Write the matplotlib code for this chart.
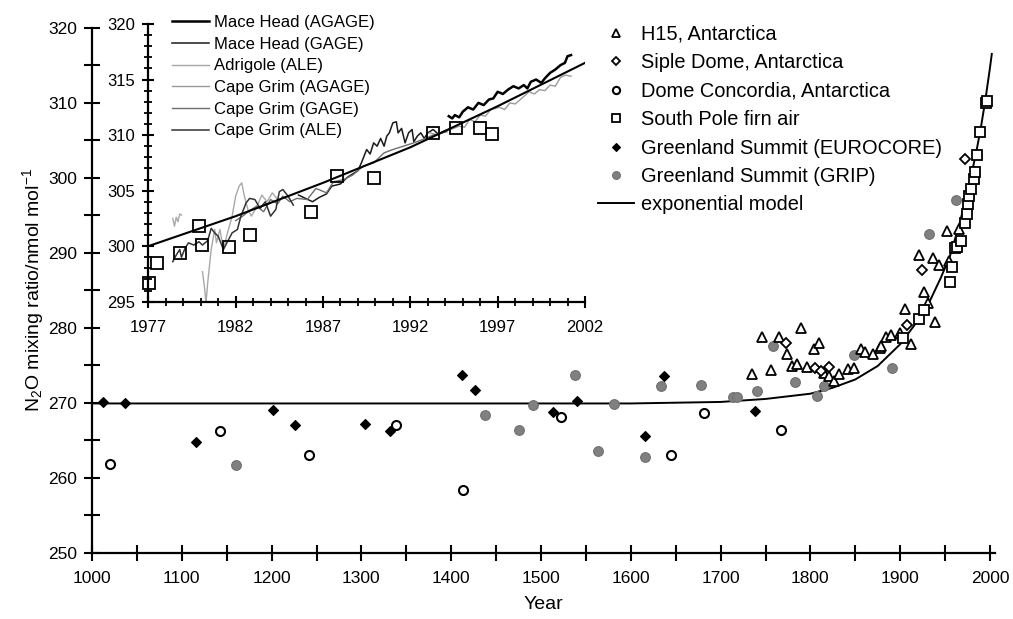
import numpy as np
import matplotlib
matplotlib.use("Agg")
import matplotlib.pyplot as plt
from matplotlib.ticker import MultipleLocator

plt.rcParams['font.family'] = ['Liberation Sans', 'DejaVu Sans']
plt.rcParams['mathtext.default'] = 'regular'

# ---- main plot data (year, N2O nmol/mol) ----
h15_year = [1735, 1746, 1756, 1765, 1774, 1780, 1785, 1790, 1796, 1804, 1810, 1815,
            1821, 1826, 1832, 1842, 1848, 1856, 1861, 1870, 1877, 1879, 1884, 1890,
            1900, 1905, 1912, 1921, 1926, 1931, 1936, 1939, 1943, 1952, 1954, 1965]
h15_val = [273.8, 278.7, 274.4, 278.7, 276.5, 274.9, 275.2, 280.0, 274.8, 277.2, 277.9, 274.0,
           273.5, 272.9, 273.8, 274.5, 274.6, 277.2, 276.8, 276.5, 277.3, 277.5, 278.8, 279.0,
           279.3, 282.5, 277.8, 289.7, 284.7, 283.3, 289.3, 280.7, 288.3, 292.9, 288.9, 293.2]

siple_year = [1773, 1805, 1812, 1821, 1908, 1924, 1972]
siple_val = [277.9, 274.6, 274.2, 274.8, 280.3, 287.7, 302.5]

domec_year = [1020, 1143, 1242, 1339, 1413, 1522, 1645, 1682, 1767]
domec_val = [261.8, 266.2, 263.0, 267.0, 258.3, 268.1, 263.0, 268.6, 266.4]

spole_year = [1903, 1921, 1926, 1955, 1958, 1961, 1963, 1968, 1972, 1974, 1976, 1977,
              1979, 1982, 1983, 1986, 1989, 1996, 1997]
spole_val = [278.6, 281.1, 282.4, 286.1, 288.1, 290.6, 290.8, 291.5, 293.9, 295.2, 296.5, 297.5,
             298.5, 299.8, 300.8, 303.0, 306.1, 309.9, 310.2]

euro_year = [1012, 1037, 1116, 1201, 1226, 1304, 1332, 1412, 1426, 1513, 1540, 1616, 1637, 1738]
euro_val = [270.1, 270.0, 264.8, 269.0, 267.0, 267.2, 266.2, 273.7, 271.7, 268.7, 270.2, 265.6, 273.6, 268.9]

grip_year = [1160, 1438, 1475, 1491, 1538, 1563, 1581, 1616, 1634, 1678, 1714, 1718, 1740,
             1758, 1783, 1807, 1815, 1848, 1891, 1932, 1962]
grip_val = [261.7, 268.4, 266.3, 269.7, 273.7, 263.6, 269.8, 262.8, 272.2, 272.4, 270.7, 270.7, 271.5,
            277.6, 272.7, 270.9, 272.2, 276.3, 274.6, 292.5, 297.0]

model_year = [1000, 1600, 1700, 1750, 1800, 1825, 1850, 1875, 1900, 1915, 1930, 1945,
              1955, 1965, 1975, 1985, 1990, 1995, 2000, 2002]
model_val = [269.9, 269.9, 270.1, 270.5, 271.2, 272.0, 273.1, 274.9, 277.8, 280.2, 282.8, 286.6,
             289.4, 293.4, 298.0, 303.6, 306.8, 310.5, 314.7, 316.5]

# ---- inset data ----
in_sq_year = [1977.06, 1977.5, 1978.8, 1979.9, 1980.1, 1981.6, 1982.8, 1986.3, 1987.8,
              1989.9, 1993.3, 1994.6, 1996.0, 1996.7]
in_sq_val = [296.7, 298.5, 299.4, 301.8, 300.1, 299.9, 301.0, 303.1, 306.3,
             306.1, 310.2, 310.6, 310.6, 310.1]

in_model_year = [1977, 1982, 1987, 1992, 1997, 2002]
in_model_val = [300.0, 302.7, 305.7, 308.9, 312.6, 316.5]

mh_agage_t = [1994.2, 1994.4, 1994.55, 1994.8, 1995.0, 1995.3, 1995.6, 1995.9, 1996.2, 1996.5,
              1996.75, 1997.0, 1997.3, 1997.6, 1997.9, 1998.2, 1998.5, 1998.7, 1998.9, 1999.2,
              1999.5, 1999.7, 2000.0, 2000.3, 2000.6, 2000.85, 2001.0, 2001.2]
mh_agage_v = [311.7, 311.5, 311.8, 311.6, 312.1, 312.5, 312.3, 312.9, 312.7, 313.2,
              313.3, 313.9, 313.7, 314.1, 314.4, 314.2, 314.5, 314.2, 314.8, 315.0,
              314.7, 315.1, 315.6, 315.9, 316.3, 316.5, 317.1, 317.2]

mh_gage_t = [1985.6, 1986.0, 1986.4, 1986.8, 1987.2, 1987.5, 1988.0, 1988.4, 1988.7, 1989.0,
             1989.2, 1989.5, 1989.7, 1989.9, 1990.1, 1990.3, 1990.5, 1990.65, 1990.8, 1991.0,
             1991.2, 1991.3, 1991.5, 1991.7, 1991.9, 1992.1, 1992.2, 1992.4, 1992.6, 1992.8,
             1993.0, 1993.3, 1993.6, 1994.0]
mh_gage_v = [304.6, 304.3, 304.0, 304.4, 304.7, 305.4, 305.6, 306.2, 306.5, 306.8,
             307.5, 308.7, 308.3, 309.3, 309.0, 309.7, 309.0, 309.9, 310.2, 311.1,
             311.2, 310.2, 310.6, 309.3, 310.2, 310.5, 309.4, 309.9, 310.2, 309.7,
             310.2, 310.5, 310.1, 310.4]

adr_t = [1978.4, 1978.5, 1978.6, 1978.7, 1978.8, 1978.9, np.nan, 1980.1, 1980.2, 1980.25,
         1980.3, 1980.4, 1980.6, 1980.8, 1980.9, 1981.1, 1981.3, 1981.5, 1981.8, 1982.0,
         1982.2, 1982.35, 1982.5, 1982.7, 1982.9, 1983.2, 1983.5, 1983.8, 1984.1, 1984.4]
adr_v = [302.5, 301.8, 302.6, 302.2, 302.9, 302.8, np.nan, 297.7, 296.5, 295.8,
         294.8, 296.7, 299.7, 301.5, 300.3, 301.5, 299.7, 301.0, 302.7, 304.5,
         305.4, 305.7, 304.5, 303.3, 302.7, 303.5, 304.6, 304.0, 304.8, 304.2]

cg_agage_t = [1993.1, 1993.6, 1994.0, 1994.3, 1994.8, 1995.1, 1995.4, 1995.7, 1996.0, 1996.3,
              1996.6, 1997.1, 1997.4, 1997.7, 1998.0, 1998.3, 1998.8, 1999.1, 1999.4, 1999.7,
              2000.0, 2000.3, 2000.6, 2000.9, 2001.2]
cg_agage_v = [310.2, 310.0, 310.4, 310.5, 310.8, 310.7, 311.4, 311.2, 311.8, 311.7,
              312.3, 312.5, 312.3, 312.9, 312.8, 313.2, 313.9, 313.7, 314.1, 314.0,
              314.5, 314.4, 315.2, 315.4, 315.3]

cg_gage_t = [1982.0, 1982.4, 1982.8, 1983.2, 1983.6, 1984.0, 1984.4, 1984.7, 1985.1, 1985.5,
             1986.1, 1986.6, 1987.2, 1987.6, 1988.2, 1988.7, 1989.3, 1989.9, 1990.5, 1991.0,
             1991.6, 1992.2, 1992.7, 1993.3, 1994.1]
cg_gage_v = [302.3, 302.7, 303.2, 303.6, 303.1, 304.2, 303.8, 304.5, 304.0, 304.3,
             304.2, 305.2, 304.8, 305.8, 306.0, 306.4, 307.2, 307.5, 308.4, 308.7,
             309.0, 309.3, 309.6, 310.0, 310.3]

cg_ale_t = [1978.4, 1978.6, 1978.8, 1978.9, 1979.1, 1979.3, 1979.6, 1979.9, 1980.1, 1980.4,
            1980.6, 1980.8, 1981.0, 1981.3, 1981.5, 1981.8, 1982.1, 1982.3, 1982.6, 1982.8,
            1983.1, 1983.4, 1983.7, 1984.0, 1984.3, 1984.5, 1984.7, 1985.0, 1985.3]
cg_ale_v = [298.6, 299.2, 299.7, 299.0, 299.8, 300.3, 300.1, 300.4, 300.1, 300.5,
            301.6, 301.2, 300.9, 299.7, 300.3, 301.2, 301.5, 302.7, 303.9, 304.3,
            304.2, 303.4, 304.0, 302.7, 303.3, 304.9, 305.1, 304.5, 303.7]


fig = plt.figure(figsize=(10.13, 6.19), dpi=100)

# main axes
ax = fig.add_axes([92/1013, 1-552.7/619, 902.5/1013, 525/619])
ax.set_xlim(1000, 2005)
ax.set_ylim(250, 320)
for s in ['top', 'right']:
    ax.spines[s].set_visible(False)
for s in ['left', 'bottom']:
    ax.spines[s].set_linewidth(1.6)
ax.xaxis.set_major_locator(MultipleLocator(100))
ax.xaxis.set_minor_locator(MultipleLocator(50))
ax.yaxis.set_major_locator(MultipleLocator(10))
ax.yaxis.set_minor_locator(MultipleLocator(5))
ax.tick_params(which='both', direction='inout', length=11, width=1.5, labelsize=12.5)
ax.tick_params(axis='x', pad=8)
ax.tick_params(axis='y', pad=5)
ax.set_xticks([1000, 1100, 1200, 1300, 1400, 1500, 1600, 1700, 1800, 1900, 2000])
ax.set_xlabel('Year', fontsize=14, labelpad=7)
ax.set_ylabel('N$_2$O mixing ratio/nmol mol$^{-1}$', fontsize=14, labelpad=2)

mew = 1.3
h1, = ax.plot(h15_year, h15_val, '^', ms=7, mfc='white', mec='black', mew=mew,
              ls='none', label='H15, Antarctica', zorder=4)
h2, = ax.plot(siple_year, siple_val, 'D', ms=5, mfc='white', mec='black', mew=mew,
              ls='none', label='Siple Dome, Antarctica', zorder=4)
h3, = ax.plot(domec_year, domec_val, 'o', ms=6.5, mfc='white', mec='black', mew=mew + 0.2,
              ls='none', label='Dome Concordia, Antarctica', zorder=4)
h4, = ax.plot(spole_year, spole_val, 's', ms=7.5, mfc='white', mec='black', mew=mew,
              ls='none', label='South Pole firn air', zorder=4)
h5, = ax.plot(euro_year, euro_val, 'D', ms=5.5, mfc='black', mec='black', mew=0.8,
              ls='none', label='Greenland Summit (EUROCORE)', zorder=4)
h6, = ax.plot(grip_year, grip_val, 'o', ms=7, mfc='#808080', mec='#707070', mew=0.8,
              ls='none', label='Greenland Summit (GRIP)', zorder=3)
h7, = ax.plot(model_year, model_val, '-', color='black', lw=1.4,
              label='exponential model', zorder=2, clip_on=False)

leg = ax.legend(handles=[h1, h2, h3, h4, h5, h6, h7], loc='upper left',
                bbox_to_anchor=(598/1013, 1-25/619), bbox_transform=fig.transFigure,
                frameon=False, fontsize=14.4, borderpad=0, borderaxespad=0,
                handlelength=1.8, handletextpad=0.35, labelspacing=0.47, markerscale=0.8)

# inset axes
ax_in = fig.add_axes([148.3/1013, 1-301.7/619, 436.7/1013, 277.7/619])
ax_in.set_xlim(1977, 2002)
ax_in.set_ylim(295, 320)
ax_in.patch.set_alpha(0)
for s in ['top', 'right']:
    ax_in.spines[s].set_visible(False)
for s in ['left', 'bottom']:
    ax_in.spines[s].set_linewidth(1.6)
ax_in.set_xticks(range(1977, 2003, 5))
ax_in.set_xticks(range(1977, 2003), minor=True)
ax_in.set_yticks(range(295, 321, 5))
ax_in.set_yticks(range(295, 321), minor=True)
ax_in.tick_params(which='major', direction='inout', length=9, width=1.5, labelsize=12)
ax_in.tick_params(which='minor', direction='inout', length=6, width=1.3)
ax_in.tick_params(axis='x', pad=9)
ax_in.tick_params(axis='y', pad=5)

l1, = ax_in.plot(mh_agage_t, mh_agage_v, color='black', lw=1.8, label='Mace Head (AGAGE)')
l2, = ax_in.plot(mh_gage_t, mh_gage_v, color='#1a1a1a', lw=1.1, label='Mace Head (GAGE)')
l3, = ax_in.plot(adr_t, adr_v, color='#a8a8a8', lw=1.0, label='Adrigole (ALE)')
l4, = ax_in.plot(cg_agage_t, cg_agage_v, color='#9a9a9a', lw=1.0, label='Cape Grim (AGAGE)')
l5, = ax_in.plot(cg_gage_t, cg_gage_v, color='#6e6e6e', lw=1.0, label='Cape Grim (GAGE)')
l6, = ax_in.plot(cg_ale_t, cg_ale_v, color='#333333', lw=1.1, label='Cape Grim (ALE)')
ax_in.plot(in_model_year, in_model_val, color='black', lw=1.5, zorder=3)
ax_in.plot(in_sq_year, in_sq_val, 's', ms=8.5, mfc='none', mec='black', mew=1.3,
           ls='none', zorder=4, clip_on=False)

ax_in.legend(handles=[l1, l2, l3, l4, l5, l6], loc='upper left',
             bbox_to_anchor=(172/1013, 1-15/619), bbox_transform=fig.transFigure,
             frameon=False, fontsize=12, borderpad=0, borderaxespad=0,
             handlelength=2.2, handletextpad=0.3, labelspacing=0.4)

fig.savefig('out.png', dpi=100)
